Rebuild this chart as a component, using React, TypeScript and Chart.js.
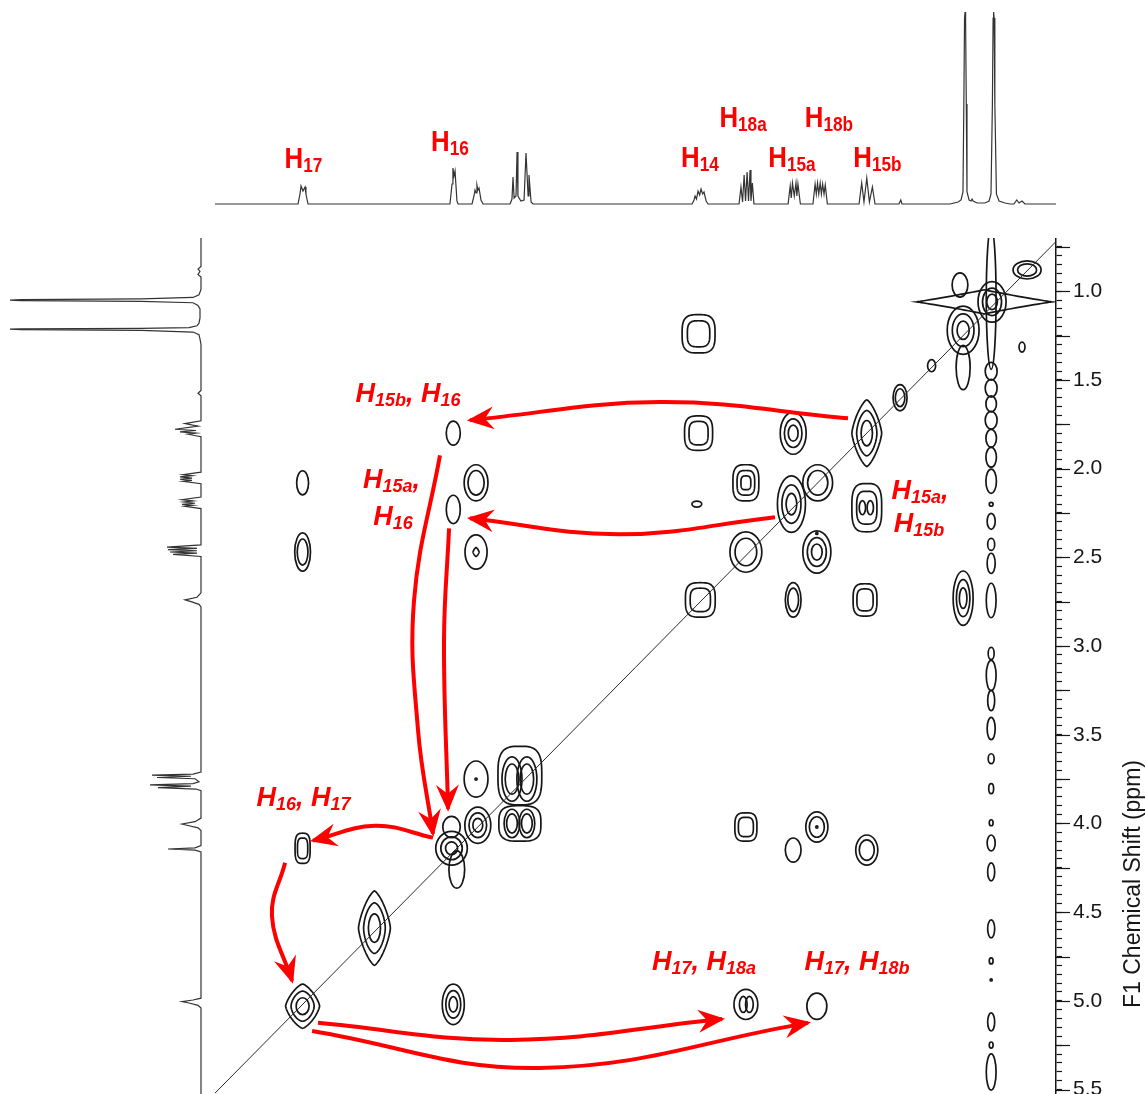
import React, { useEffect, useRef } from 'react';
import { Chart, registerables } from 'chart.js';

Chart.register(...registerables);

const FONT = '"Liberation Sans", Arial, Helvetica, sans-serif';
const RED = '#ff0000';
const INK = '#161616';

// ---------- axis ranges (ppm) ----------
const f2Range = [0.72, 5.52];   // horizontal (reversed: high ppm on the left)
const f1Range = [0.70, 5.525];  // vertical (reversed: low ppm on top)

// ---------- right axis ticks ----------
const f1TickValues = [1.0, 1.5, 2.0, 2.5, 3.0, 3.5, 4.0, 4.5, 5.0, 5.5];
const f1TickLabels = ['1.0', '1.5', '2.0', '2.5', '3.0', '3.5', '4.0', '4.5', '5.0', '5.5'];
const f1AxisTitle = 'F1 Chemical Shift (ppm)';

// ---------- top 1D spectrum: [ppm, intensity] ----------
const topSpectrum: [number, number][] = [
  [5.52, 0],
  [5.046, 0], [5.035, 10], [5.029, 18], [5.018, 13], [5.006, 17], [5.001, 10], [4.989, 0],
  [4.179, 0], [4.167, 20], [4.162, 36], [4.156, 28], [4.150, 33], [4.139, 3], [4.133, 0],
  [4.053, 0], [4.042, 8], [4.036, 14], [4.030, 11], [4.025, 19], [4.019, 14], [4.013, 16], [4.002, 4], [3.990, 0],
  [3.836, 0], [3.825, 5], [3.819, 27], [3.813, 6], [3.802, 8], [3.796, 52], [3.791, 8], [3.774, 3], [3.756, 4],
  [3.745, 51], [3.739, 30], [3.733, 8], [3.728, 29], [3.716, 2], [3.705, 0],
  [2.797, 0], [2.786, 4], [2.780, 8], [2.772, 5], [2.763, 13], [2.754, 9], [2.746, 15], [2.737, 10], [2.729, 12], [2.717, 3], [2.706, 0],
  [2.529, 0], [2.518, 17], [2.509, 2], [2.500, 29], [2.492, 3], [2.483, 32], [2.475, 3], [2.466, 34], [2.461, 3], [2.453, 21], [2.444, 0],
  [2.249, 0], [2.237, 18], [2.231, 6], [2.224, 21], [2.214, 8], [2.204, 21], [2.199, 8], [2.193, 20], [2.179, 0],
  [2.107, 0], [2.095, 20], [2.088, 10], [2.081, 21], [2.074, 10], [2.066, 21], [2.059, 10], [2.052, 20], [2.044, 10], [2.037, 19], [2.025, 0],
  [1.844, 0], [1.829, 21], [1.816, 2], [1.800, 26], [1.785, 2], [1.768, 17], [1.753, 0],
  [1.616, 0], [1.606, 4], [1.599, 0],
  [1.325, 0], [1.279, 2], [1.262, 4], [1.251, 12], [1.246, 100], [1.242, 186], [1.239, 192], [1.236, 186], [1.232, 100], [1.228, 12],
  [1.216, 4], [1.205, 3], [1.199, 5], [1.193, 3], [1.17, 1], [1.14, 1],
  [1.125, 1], [1.102, 3], [1.091, 10], [1.083, 100], [1.079, 186], [1.076, 192], [1.073, 186], [1.069, 100], [1.060, 10], [1.045, 3], [1.011, 1], [0.982, 0],
  [0.960, 0], [0.944, 4], [0.931, 1], [0.914, 3], [0.897, 0],
  [0.72, 0],
];

// ---------- left 1D spectrum: [ppm, intensity] ----------
const leftSpectrum: [number, number][] = [
  [0.70, 0], [0.86, 0], [0.875, 3], [0.888, 1], [0.905, 3], [0.92, 0], [0.99, 0], [1.02, 2], [1.035, 8],
  [1.043, 60], [1.047, 180], [1.050, 191], [1.053, 180], [1.057, 60], [1.065, 8], [1.08, 3], [1.10, 1], [1.15, 1],
  [1.18, 2], [1.195, 4], [1.205, 12], [1.209, 60], [1.212, 180], [1.214, 191], [1.217, 180], [1.221, 60], [1.23, 8],
  [1.245, 2], [1.27, 1], [1.30, 0],
  [1.56, 0], [1.575, 3], [1.59, 0],
  [1.73, 0], [1.746, 16], [1.76, 3], [1.778, 26], [1.785, 5], [1.793, 21], [1.80, 5], [1.806, 13], [1.82, 0],
  [2.02, 0], [2.034, 18], [2.040, 9], [2.047, 21], [2.053, 9], [2.060, 21], [2.066, 9], [2.071, 18], [2.085, 0],
  [2.16, 0], [2.175, 19], [2.182, 8], [2.188, 17], [2.195, 6], [2.201, 19], [2.207, 8], [2.212, 16], [2.225, 0],
  [2.43, 0], [2.442, 34], [2.449, 4], [2.457, 33], [2.463, 4], [2.470, 31], [2.476, 4], [2.483, 28], [2.495, 0],
  [2.70, 0], [2.725, 4], [2.74, 16], [2.75, 10], [2.765, 2], [2.78, 0],
  [3.71, 0], [3.722, 8], [3.728, 49], [3.734, 10], [3.741, 44], [3.748, 6], [3.765, 2], [3.775, 8], [3.783, 51],
  [3.790, 10], [3.798, 43], [3.806, 5], [3.815, 0],
  [3.97, 0], [3.99, 6], [4.003, 19], [4.01, 14], [4.025, 3], [4.04, 0],
  [4.125, 0], [4.138, 6], [4.144, 33], [4.150, 6], [4.16, 0],
  [4.985, 0], [4.995, 8], [5.004, 19], [5.012, 12], [5.025, 3], [5.04, 0],
  [5.525, 0],
];

// ---------- 2D contour peaks: [F2 ppm, F1 ppm, half-width F2, half-height F1, levels, shape] ----------
type Peak = [number, number, number, number, number, string];

const peaksH17: Peak[] = [
  [5.02, 2.08, 0.034, 0.068, 1, 'e'],
  [5.02, 2.47, 0.045, 0.108, 2, 'e'],
  [5.02, 4.14, 0.043, 0.085, 2, 's'],
  [5.02, 5.03, 0.097, 0.125, 3, 'd'],
];
const peaksH16: Peak[] = [
  [4.16, 1.80, 0.040, 0.068, 1, 'e'],
  [4.16, 2.23, 0.040, 0.080, 1, 'e'],
  [4.17, 4.14, 0.090, 0.095, 3, 'e'],
  [4.14, 4.26, 0.045, 0.105, 1, 'e'],
  [4.17, 4.02, 0.050, 0.060, 1, 'e'],
  [4.16, 5.02, 0.063, 0.114, 3, 'e'],
];
const peaks402: Peak[] = [
  [4.03, 2.08, 0.068, 0.102, 2, 'e'],
  [4.03, 2.47, 0.063, 0.097, 1, 'e'],
  [4.03, 2.47, 0.017, 0.025, 1, 'd'],
  [4.03, 3.75, 0.068, 0.102, 1, 'e'],
  [4.03, 3.75, 0.006, 0.006, 1, 'e'],
  [4.02, 4.01, 0.074, 0.102, 3, 'e'],
];
const peaks378: Peak[] = [
  [3.78, 3.73, 0.125, 0.165, 1, 's'],
  [3.825, 3.75, 0.057, 0.125, 2, 'e'],
  [3.74, 3.75, 0.057, 0.125, 2, 'e'],
  [3.78, 4.00, 0.120, 0.100, 1, 's'],
  [3.825, 4.00, 0.045, 0.080, 2, 'e'],
  [3.74, 4.00, 0.045, 0.080, 2, 'e'],
];
const peaksH14: Peak[] = [
  [2.76, 1.24, 0.094, 0.108, 2, 's'],
  [2.76, 1.80, 0.080, 0.097, 2, 's'],
  [2.77, 2.20, 0.028, 0.017, 1, 'e'],
  [2.75, 2.74, 0.085, 0.097, 2, 's'],
];
const peaksH18a: Peak[] = [
  [2.49, 2.08, 0.074, 0.102, 3, 's'],
  [2.49, 2.47, 0.091, 0.114, 2, 'e'],
  [2.49, 4.02, 0.063, 0.080, 2, 's'],
  [2.49, 5.02, 0.068, 0.085, 1, 'e'],
  [2.505, 5.02, 0.022, 0.045, 1, 'e'],
  [2.470, 5.02, 0.022, 0.045, 1, 'e'],
];
const peaksH15a: Peak[] = [
  [2.22, 1.80, 0.074, 0.119, 3, 'e'],
  [2.23, 2.20, 0.080, 0.159, 3, 'e'],
  [2.22, 2.74, 0.045, 0.097, 2, 'e'],
  [2.22, 4.15, 0.045, 0.068, 1, 'e'],
];
const peaksH18b: Peak[] = [
  [2.08, 2.08, 0.085, 0.102, 2, 'e'],
  [2.085, 2.47, 0.080, 0.119, 3, 'e'],
  [2.085, 2.365, 0.006, 0.006, 1, 'e'],
  [2.085, 4.02, 0.063, 0.085, 2, 'e'],
  [2.085, 4.02, 0.006, 0.006, 1, 'e'],
  [2.085, 5.03, 0.057, 0.074, 1, 'e'],
];
const peaksH15b: Peak[] = [
  [1.80, 1.80, 0.085, 0.188, 3, 'd'],
  [1.80, 2.22, 0.085, 0.136, 2, 's'],
  [1.825, 2.22, 0.018, 0.040, 1, 'e'],
  [1.780, 2.22, 0.018, 0.040, 1, 'e'],
  [1.81, 2.74, 0.068, 0.091, 2, 's'],
  [1.80, 4.15, 0.063, 0.085, 2, 'e'],
];
const peaksMinorDiagonal: Peak[] = [
  [1.61, 1.60, 0.040, 0.074, 2, 'e'],
  [1.43, 1.42, 0.023, 0.034, 1, 'e'],
  [4.61, 4.59, 0.091, 0.210, 3, 'd'],
  [1.25, 2.73, 0.057, 0.153, 3, 'e'],
];
const peaksMethyl: Peak[] = [
  [1.13, 1.06, 0.386, 0.068, 1, 'x'],
  [1.25, 1.22, 0.091, 0.136, 3, 'e'],
  [1.25, 1.43, 0.040, 0.125, 1, 'e'],
  [1.268, 0.965, 0.045, 0.068, 1, 'e'],
  [1.085, 1.06, 0.080, 0.114, 3, 'e'],
  [1.09, 1.04, 0.028, 0.400, 1, 'e'],
  [0.885, 0.88, 0.080, 0.051, 2, 'e'],
  [0.914, 1.315, 0.017, 0.028, 1, 'e'],
];
const peaksT1Noise: Peak[] = [
  [1.09, 1.451, 0.034, 0.050, 1, 'e'], [1.09, 1.547, 0.034, 0.050, 1, 'e'], [1.09, 1.635, 0.030, 0.045, 1, 'e'],
  [1.09, 1.727, 0.034, 0.050, 1, 'e'], [1.09, 1.829, 0.030, 0.050, 1, 'e'], [1.09, 1.936, 0.030, 0.056, 1, 'e'],
  [1.09, 2.071, 0.030, 0.068, 1, 'e'], [1.09, 2.201, 0.011, 0.011, 1, 'e'], [1.09, 2.297, 0.023, 0.045, 1, 'e'],
  [1.09, 2.427, 0.020, 0.034, 1, 'e'], [1.09, 2.534, 0.023, 0.057, 1, 'e'], [1.09, 2.743, 0.028, 0.097, 1, 'e'],
  [1.09, 3.042, 0.017, 0.034, 1, 'e'], [1.09, 3.166, 0.028, 0.085, 1, 'e'], [1.09, 3.307, 0.020, 0.057, 1, 'e'],
  [1.09, 3.465, 0.023, 0.063, 1, 'e'], [1.09, 3.635, 0.017, 0.028, 1, 'e'], [1.09, 3.804, 0.014, 0.028, 1, 'e'],
  [1.09, 3.996, 0.011, 0.017, 1, 'e'], [1.09, 4.110, 0.023, 0.045, 1, 'e'], [1.09, 4.273, 0.020, 0.051, 1, 'e'],
  [1.09, 4.594, 0.020, 0.051, 1, 'e'], [1.09, 4.775, 0.011, 0.017, 1, 'e'], [1.09, 4.882, 0.006, 0.006, 1, 'e'],
  [1.09, 5.119, 0.020, 0.051, 1, 'e'], [1.09, 5.249, 0.011, 0.017, 1, 'e'], [1.09, 5.401, 0.028, 0.102, 1, 'e'],
];

const contourGroups = [
  peaksH17, peaksH16, peaks402, peaks378, peaksH14, peaksH18a, peaksH15a, peaksH18b, peaksH15b,
  peaksMinorDiagonal, peaksMethyl, peaksT1Noise,
];

// ---------- diagonal ----------
const diagonal: [number, number][] = [[5.53, 5.53], [0.70, 0.70]];

// ---------- correlation arrows: [F2 ppm, F1 ppm] ----------
const arrowH15bH16: [number, number][] = [[1.907, 1.716], [2.98, 1.625], [4.065, 1.727]];
const arrowH15aH16: [number, number][] = [[2.324, 2.274], [3.208, 2.37], [4.065, 2.28]];
const arrowDownOuter: [number, number][] = [[4.236, 1.925], [4.384, 2.743], [4.361, 3.477], [4.276, 4.058]];
const arrowDownInner: [number, number][] = [[4.184, 2.337], [4.213, 2.969], [4.19, 3.917]];
const arrowH16H17: [number, number][] = [[4.276, 4.08], [4.607, 4.013], [4.961, 4.097]];
const arrowToH17: [number, number][] = [[5.12, 4.221], [5.195, 4.521], [5.08, 4.887]];
const arrowH17H18a: [number, number][] = [[4.932, 5.124], [3.836, 5.22], [2.626, 5.102]];
const arrowH17H18b: [number, number][] = [[4.966, 5.17], [3.665, 5.378], [2.135, 5.124]];
const arrows = [arrowH15bH16, arrowH15aH16, arrowDownOuter, arrowDownInner, arrowH16H17, arrowToH17, arrowH17H18a, arrowH17H18b];

// ---------- labels ----------
const protonLabelText = ['H_{17}', 'H_{16}', 'H_{14}', 'H_{18a}', 'H_{15a}', 'H_{18b}', 'H_{15b}'];
const protonLabelPpm = [5.015, 4.179, 2.752, 2.506, 2.227, 2.016, 1.739];
const protonLabelHeight = [36, 53, 37, 77, 37, 77, 37];

const crossLabelText = ['H_{15b}, H_{16}', 'H_{15a},', 'H_{16}', 'H_{15a},', 'H_{15b}', 'H_{16}, H_{17}', 'H_{17}, H_{18a}', 'H_{17}, H_{18b}'];
const crossLabelF2 = [4.418, 4.513, 4.504, 1.496, 1.502, 5.015, 2.729, 1.856];
const crossLabelF1 = [1.625, 2.111, 2.320, 2.173, 2.359, 3.900, 4.825, 4.825];

// ---------- drawing helpers ----------
const LEVEL_SCALE = [1, 0.68, 0.38, 0.15];

function drawShape(ctx: any, cx: number, cy: number, rx: number, ry: number, shape: string) {
  rx = Math.max(rx, 0.8);
  ry = Math.max(ry, 0.8);
  ctx.beginPath();
  if (shape === 'e') {
    ctx.ellipse(cx, cy, rx, ry, 0, 0, Math.PI * 2);
  } else {
    const e = shape === 's' ? 0.62 : shape === 'd' ? 1.45 : shape === 'x' ? 2.1 : 1.2;
    for (let j = 0; j <= 96; j++) {
      const t = (j / 96) * Math.PI * 2;
      const c = Math.cos(t);
      const s = Math.sin(t);
      const x = cx + rx * Math.sign(c) * Math.pow(Math.abs(c), e);
      const y = cy + ry * Math.sign(s) * Math.pow(Math.abs(s), e);
      if (j === 0) ctx.moveTo(x, y);
      else ctx.lineTo(x, y);
    }
    ctx.closePath();
  }
  ctx.stroke();
}

function parseRich(s: string) {
  const segs: { t: string; sub: boolean }[] = [];
  const re = /_\{([^}]*)\}/g;
  let last = 0;
  let m: any;
  while ((m = re.exec(s))) {
    if (m.index > last) segs.push({ t: s.slice(last, m.index), sub: false });
    segs.push({ t: m[1], sub: true });
    last = m.index + m[0].length;
  }
  if (last < s.length) segs.push({ t: s.slice(last), sub: false });
  return segs;
}

function drawRich(ctx: any, s: string, cx: number, by: number, st: any) {
  const segs = parseRich(s);
  const widths = segs.map((sg) => {
    ctx.font = sg.sub ? st.subFont : st.font;
    return ctx.measureText(sg.t).width;
  });
  const total = widths.reduce((a, b) => a + b, 0) * st.sx;
  ctx.save();
  ctx.translate(cx - total / 2, by);
  ctx.scale(st.sx, 1);
  ctx.fillStyle = RED;
  ctx.textBaseline = 'alphabetic';
  ctx.textAlign = 'left';
  let x = 0;
  segs.forEach((sg, i) => {
    ctx.font = sg.sub ? st.subFont : st.font;
    ctx.fillText(sg.t, x, sg.sub ? st.subDy : 0);
    x += widths[i];
  });
  ctx.restore();
}

function labelPlugin(id: string, texts: string[], xs: number[], ys: number[], st: any) {
  return {
    id,
    afterDatasetsDraw(chart: any) {
      const { ctx } = chart;
      const sx = chart.scales.x;
      const sy = chart.scales.y;
      texts.forEach((t, i) => {
        drawRich(ctx, t, sx.getPixelForValue(xs[i]), sy.getPixelForValue(ys[i]), st);
      });
    },
  };
}

const contourPlugin = {
  id: 'contours',
  beforeDatasetsDraw(chart: any) {
    const { ctx, chartArea } = chart;
    const xs = chart.scales.x;
    const ys = chart.scales.y;
    ctx.save();
    ctx.beginPath();
    ctx.rect(chartArea.left, chartArea.top, chartArea.right - chartArea.left, chartArea.bottom - chartArea.top);
    ctx.clip();
    ctx.strokeStyle = INK;
    ctx.lineWidth = 1.7;
    chart.data.datasets.forEach((ds: any, di: number) => {
      if (!ds.contour) return;
      const meta = chart.getDatasetMeta(di);
      meta.data.forEach((el: any, i: number) => {
        const p = ds.data[i];
        const rx = Math.abs(xs.getPixelForValue(p.x + p.rx) - el.x);
        const ry = Math.abs(ys.getPixelForValue(p.y + p.ry) - el.y);
        for (let k = 0; k < p.n; k++) {
          const s = LEVEL_SCALE[k];
          let shape = p.shape;
          if (p.shape === 'd' && k > 0) shape = k === 1 ? 'd2' : 'e';
          drawShape(ctx, el.x, el.y, rx * s, ry * s, shape);
        }
      });
    });
    ctx.restore();
  },
};

const arrowHeadPlugin = {
  id: 'arrowHeads',
  afterDatasetsDraw(chart: any) {
    const { ctx } = chart;
    chart.data.datasets.forEach((ds: any, di: number) => {
      if (!ds.arrow) return;
      const pts = chart.getDatasetMeta(di).data;
      const end = pts[pts.length - 1];
      const prev = pts[pts.length - 2];
      const useCp = end.cp1x !== undefined && Math.abs(end.cp1x - end.x) + Math.abs(end.cp1y - end.y) > 0.5;
      const bx = useCp ? end.cp1x : prev.x;
      const by = useCp ? end.cp1y : prev.y;
      const ang = Math.atan2(end.y - by, end.x - bx);
      ctx.save();
      ctx.translate(end.x, end.y);
      ctx.rotate(ang);
      ctx.translate(3, 0);
      ctx.fillStyle = RED;
      ctx.beginPath();
      ctx.moveTo(0, 0);
      ctx.lineTo(-27, -11.5);
      ctx.lineTo(-18, 0);
      ctx.lineTo(-27, 11.5);
      ctx.closePath();
      ctx.fill();
      ctx.restore();
    });
  },
};

const axisDecorPlugin = {
  id: 'axisDecor',
  afterDraw(chart: any) {
    const { ctx, chartArea } = chart;
    const ys = chart.scales.y;
    ctx.save();
    ctx.strokeStyle = INK;
    ctx.lineWidth = 1.2;
    for (let i = 3; i <= 22; i++) {
      const v = i / 4;
      const py = Math.round(ys.getPixelForValue(v)) + 0.5;
      ctx.beginPath();
      ctx.moveTo(chartArea.right, py);
      ctx.lineTo(chartArea.right + 14, py);
      ctx.stroke();
    }
    ctx.translate(chartArea.right + 84, chartArea.top + 646);
    ctx.rotate(-Math.PI / 2);
    ctx.fillStyle = INK;
    ctx.font = `23px ${FONT}`;
    ctx.textAlign = 'center';
    ctx.textBaseline = 'alphabetic';
    ctx.fillText(f1AxisTitle, 0, 0);
    ctx.restore();
  },
};

const baseOptions = {
  animation: false as const,
  responsive: false,
  events: [] as any[],
  layout: { padding: 0 },
  plugins: { legend: { display: false }, tooltip: { enabled: false } },
};

export default function App() {
  const topRef = useRef<HTMLCanvasElement>(null);
  const leftRef = useRef<HTMLCanvasElement>(null);
  const mainRef = useRef<HTMLCanvasElement>(null);

  useEffect(() => {
    const charts: Chart[] = [];

    // top 1D spectrum
    charts.push(
      new Chart(topRef.current as HTMLCanvasElement, {
        type: 'scatter',
        data: {
          datasets: [
            {
              data: topSpectrum.map(([x, y]) => ({ x, y })),
              showLine: true,
              borderColor: '#333',
              borderWidth: 1.2,
              pointRadius: 0,
              tension: 0,
            } as any,
          ],
        },
        options: {
          ...baseOptions,
          scales: {
            x: { type: 'linear', min: f2Range[0], max: f2Range[1], reverse: true, display: false },
            y: { type: 'linear', min: -11, max: 204, display: false },
          },
        } as any,
        plugins: [
          labelPlugin('protonLabels', protonLabelText, protonLabelPpm, protonLabelHeight, {
            font: `bold 30px ${FONT}`,
            subFont: `bold 20px ${FONT}`,
            subDy: 4,
            sx: 0.86,
          }),
        ],
      })
    );

    // left 1D spectrum
    charts.push(
      new Chart(leftRef.current as HTMLCanvasElement, {
        type: 'scatter',
        data: {
          datasets: [
            {
              data: leftSpectrum.map(([y, x]) => ({ x, y })),
              showLine: true,
              borderColor: '#333',
              borderWidth: 1.2,
              pointRadius: 0,
              tension: 0,
            } as any,
          ],
        },
        options: {
          ...baseOptions,
          scales: {
            x: { type: 'linear', min: -14, max: 201, reverse: true, display: false },
            y: { type: 'linear', min: f1Range[0], max: f1Range[1], reverse: true, display: false },
          },
        } as any,
      })
    );

    // main 2D COSY
    const datasets: any[] = [];
    contourGroups.forEach((g) => {
      datasets.push({
        contour: true,
        data: g.map(([x, y, rx, ry, n, shape]) => ({ x, y, rx, ry, n, shape })),
        pointRadius: 0,
        showLine: false,
      });
    });
    datasets.push({
      data: diagonal.map(([x, y]) => ({ x, y })),
      showLine: true,
      borderColor: '#2a2a2a',
      borderWidth: 1,
      pointRadius: 0,
    });
    arrows.forEach((a) => {
      datasets.push({
        arrow: true,
        data: a.map(([x, y]) => ({ x, y })),
        showLine: true,
        borderColor: RED,
        borderWidth: 4,
        pointRadius: 0,
        tension: 0.4,
        clip: false,
      });
    });

    charts.push(
      new Chart(mainRef.current as HTMLCanvasElement, {
        type: 'scatter',
        data: { datasets },
        options: {
          ...baseOptions,
          scales: {
            x: { type: 'linear', min: f2Range[0], max: f2Range[1], reverse: true, display: false },
            y: {
              type: 'linear',
              position: 'right',
              min: f1Range[0],
              max: f1Range[1],
              reverse: true,
              afterBuildTicks: (scale: any) => {
                const t: any[] = [];
                for (let i = 15; i <= 110; i++) t.push({ value: i / 20 });
                scale.ticks = t;
              },
              afterFit: (scale: any) => {
                scale.width = 90;
                scale.paddingTop = 0;
                scale.paddingBottom = 0;
                scale.paddingLeft = 0;
                scale.paddingRight = 0;
              },
              ticks: {
                autoSkip: false,
                padding: 11,
                color: INK,
                font: { family: FONT, size: 21 },
                maxRotation: 0,
                minRotation: 0,
                callback: (v: any) => {
                  const idx = f1TickValues.findIndex((tv) => Math.abs(tv - Number(v)) < 1e-6);
                  return idx >= 0 ? f1TickLabels[idx] : '';
                },
              },
              grid: { display: true, drawOnChartArea: false, drawTicks: true, tickLength: 6, tickColor: INK, tickWidth: 1.2 },
              border: { display: true, color: INK, width: 1.5 },
            },
          },
        } as any,
        plugins: [
          contourPlugin,
          arrowHeadPlugin,
          labelPlugin('crossLabels', crossLabelText, crossLabelF2, crossLabelF1, {
            font: `italic bold 27px ${FONT}`,
            subFont: `italic bold 18px ${FONT}`,
            subDy: 4,
            sx: 1,
          }),
          axisDecorPlugin,
        ],
      })
    );

    return () => charts.forEach((c) => c.destroy());
  }, []);

  return (
    <div style={{ position: 'absolute', left: 0, top: 0, width: 1146, height: 1094, background: '#fff', overflow: 'hidden' }}>
      <canvas ref={topRef} width={841} height={215} style={{ position: 'absolute', left: 215, top: 0 }} />
      <canvas ref={leftRef} width={215} height={856} style={{ position: 'absolute', left: 0, top: 238 }} />
      <canvas ref={mainRef} width={931} height={856} style={{ position: 'absolute', left: 215, top: 238 }} />
    </div>
  );
}
